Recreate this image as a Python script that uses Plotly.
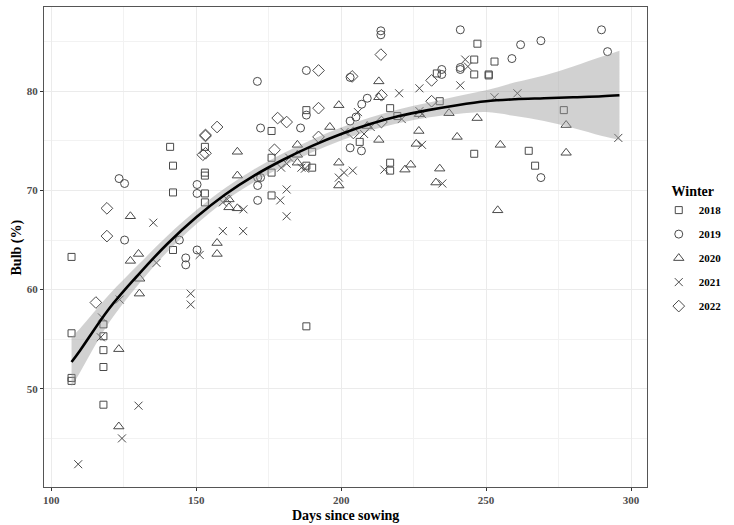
import plotly.graph_objects as go

# ---- data ----
sq_x = [107, 107, 107, 107, 118, 118, 118, 118, 118, 141, 142, 142, 142,
        153, 153, 153, 153, 153, 176, 176, 176, 176, 188, 188, 190, 190, 188,
        206.4, 216.9, 219.4, 216.9, 216.9, 233, 234, 245.9, 245.9, 247, 250.9,
        250.9, 252.9, 245.9, 264.7, 266.9, 276.8]
sq_y = [63.3, 55.6, 51.1, 50.8, 56.5, 55.3, 53.9, 52.2, 48.4, 74.4, 72.5, 69.8, 64.0,
        74.4, 71.8, 71.5, 69.7, 68.8, 76.0, 73.3, 71.8, 69.5, 78.1, 72.5, 72.3, 73.9, 56.3,
        74.9, 78.3, 77.5, 72.8, 72.0, 81.8, 79.0, 83.2, 81.7, 84.8, 81.7,
        81.6, 83.0, 73.7, 74.0, 72.5, 78.1]

ci_x = [123.4, 125.3, 125.3, 144.2, 146.4, 146.4, 150.3, 150.3, 150.3,
        171.1, 172.2, 171.2, 172.2, 171.2, 171.2, 186.0, 188.0, 188.0,
        203.1, 203.1, 205.1, 203.1, 207.0, 207.1, 209.0, 213.7, 213.7,
        234.7, 234.7, 241.1, 241.1, 241.1, 258.9, 261.9, 268.9, 268.9, 289.8, 291.9]
ci_y = [71.2, 70.7, 65.0, 65.0, 63.2, 62.5, 70.6, 69.7, 64.0,
        81.0, 76.3, 71.3, 71.3, 70.5, 69.0, 76.3, 82.1, 77.6,
        81.4, 77.0, 77.4, 74.3, 74.0, 78.7, 79.3, 86.1, 85.7,
        82.2, 81.7, 86.2, 82.4, 82.2, 83.3, 84.7, 85.1, 71.3, 86.2, 84.0]

tr_x = [123.3, 123.3, 127.3, 127.3, 130.1, 130.5, 130.4, 157.2, 157.2, 161.3, 161.3,
        164.2, 164.2, 164.2, 184.9, 184.9, 184.9, 196.1, 199.2, 199.2, 199.2,
        209, 213.0, 213.0, 213.0, 222.0, 224.0, 225.9, 226.8, 227, 232.7, 234.0,
        237.2, 240.0, 246.9, 254.0, 254.9, 277.6, 277.6]
tr_y = [54.0, 46.2, 67.4, 62.9, 63.6, 61.1, 59.6, 64.7, 63.6, 68.3, 69.1,
        73.9, 71.5, 68.2, 74.6, 73.6, 72.8, 76.4, 78.6, 72.8, 70.5,
        76.5, 81.0, 79.4, 75.1, 72.1, 72.6, 74.7, 76.0, 77.7, 70.8, 72.2,
        77.8, 75.4, 77.3, 68.0, 74.6, 76.6, 73.8]

xx_x = [109.3, 117.1, 117.5, 123.6, 124.4, 130.1, 135.2, 136.3, 148.1, 148.1, 151.2,
        159.2, 160.7, 159.2, 166.3, 166.2, 179.0, 179.3, 181.2, 182.1, 181.2, 181.2,
        186.3, 187.5, 199.2, 201.0, 201.2, 204.0, 205.8, 207.9, 210.2,
        214.9, 220.0, 220.9, 227.0, 227.0, 227.9, 227.9, 234.9, 241.1, 242.8,
        243.7, 252.9, 260.8, 295.6]
xx_y = [42.4, 55.2, 57.2, 59.0, 45.0, 48.3, 66.75, 62.7, 59.6, 58.5, 63.5,
        68.8, 69.1, 65.9, 68.1, 65.9, 69.0, 72.3, 72.7, 73.3, 70.1, 67.4,
        72.3, 72.2, 71.3, 71.8, 75.9, 72.0, 77.9, 75.7, 76.4,
        72.1, 79.8, 77.2, 80.3, 78.0, 77.7, 74.6, 70.7, 80.6, 83.2,
        82.5, 79.4, 79.8, 75.3]

di_x = [115.4, 119.2, 119.2, 152.3, 153.2, 153.2, 153.2, 157.2, 177.0, 178.1, 181.2,
        192.2, 192.2, 192.2, 203.8, 204.2, 213.7, 213.9, 213.9, 231.2, 231.2]
di_y = [58.7, 68.2, 65.4, 73.6, 73.75, 75.5, 75.6, 76.4, 74.1, 77.3, 76.9,
        82.1, 78.3, 75.4, 81.5, 75.8, 83.7, 79.6, 76.9, 81.1, 79.0]

fit_x = [107, 110, 120, 130, 140, 150, 160, 170, 180, 190, 200, 210, 220, 230,
         240, 250, 260, 270, 280, 290, 296]
fit_y = [52.7, 53.9, 58.1, 61.5, 64.6, 67.3, 69.6, 71.5, 73.1, 74.5, 75.7, 76.7,
         77.5, 78.1, 78.6, 79.0, 79.2, 79.3, 79.4, 79.5, 79.6]
fit_se = [2.5, 2.2, 1.4, 1.0, 0.8, 0.7, 0.65, 0.65, 0.65, 0.65, 0.65, 0.65,
          0.7, 0.75, 0.9, 1.1, 1.7, 2.3, 3.1, 4.0, 4.5]

series = [
    ("2018", sq_x, sq_y, "square-open", 7),
    ("2019", ci_x, ci_y, "circle-open", 8),
    ("2020", tr_x, tr_y, "triangle-up-open", 9),
    ("2021", xx_x, xx_y, "x-thin-open", 8),
    ("2022", di_x, di_y, "diamond-open", 9),
]

PT = "#4a4a4a"
fig = go.Figure()
for name, xs, ys, sym, sz in series:
    fig.add_trace(go.Scatter(
        x=xs, y=ys, mode="markers", name="<b>" + name + "</b>", legendgroup=name,
        marker=dict(symbol=sym, size=sz, color=PT, line=dict(width=1, color=PT)),
    ))

lower = [m - s for m, s in zip(fit_y, fit_se)]
upper = [m + s for m, s in zip(fit_y, fit_se)]
fig.add_trace(go.Scatter(x=fit_x, y=lower, mode="lines", line=dict(width=0, shape="spline"),
                         showlegend=False, hoverinfo="skip"))
fig.add_trace(go.Scatter(x=fit_x, y=upper, mode="lines", line=dict(width=0, shape="spline"),
                         fill="tonexty", fillcolor="rgba(153,153,153,0.45)",
                         showlegend=False, hoverinfo="skip"))
fig.add_trace(go.Scatter(x=fit_x, y=fit_y, mode="lines",
                         line=dict(color="black", width=2.6, shape="spline"),
                         showlegend=False, hoverinfo="skip"))

FONT = "Liberation Serif"
fig.update_layout(
    width=734, height=525,
    margin=dict(l=44, r=76, t=7, b=38),
    paper_bgcolor="white", plot_bgcolor="white",
    font=dict(family=FONT, color="black"),
    legend=dict(
        title=dict(text="<b>Winter</b>", font=dict(size=14, family=FONT, color="black"),
                   side="top center"),
        font=dict(size=11, family=FONT, color="black"),
        x=1.0195, xanchor="left", y=0.645, yanchor="top",
        tracegroupgap=5, bgcolor="rgba(0,0,0,0)", itemwidth=30,
    ),
    xaxis=dict(
        range=[97.5, 305.5], tickvals=[100, 150, 200, 250, 300],
        ticktext=["<b>100</b>", "<b>150</b>", "<b>200</b>", "<b>250</b>", "<b>300</b>"],
        showgrid=True, gridcolor="#ebebeb", gridwidth=1,
        minor=dict(tickvals=[125, 175, 225, 275], showgrid=True, gridcolor="#f2f2f2", gridwidth=0.7),
        ticks="outside", ticklen=3, tickcolor="#333", tickwidth=1,
        tickfont=dict(size=11, family=FONT, color="#4d4d4d"),
        showline=True, linecolor="#555", linewidth=1, mirror=True, zeroline=False,
        automargin=False,
    ),
    yaxis=dict(
        range=[40.1, 88.5], tickvals=[50, 60, 70, 80],
        ticktext=["<b>50</b>", "<b>60</b>", "<b>70</b>", "<b>80</b>"],
        showgrid=True, gridcolor="#ebebeb", gridwidth=1,
        minor=dict(tickvals=[45, 55, 65, 75, 85], showgrid=True, gridcolor="#f2f2f2", gridwidth=0.7),
        ticks="outside", ticklen=3, tickcolor="#333", tickwidth=1,
        tickfont=dict(size=11, family=FONT, color="#4d4d4d"),
        showline=True, linecolor="#555", linewidth=1, mirror=True, zeroline=False,
        automargin=False,
    ),
    annotations=[
        dict(text="<b>Days since sowing</b>", xref="paper", yref="paper",
             x=0.5, y=-0.0593, xanchor="center", yanchor="middle", showarrow=False,
             font=dict(size=14, family=FONT, color="black")),
        dict(text="<b>Bulb (%)</b>", xref="paper", yref="paper",
             x=-0.044, y=0.5, xanchor="center", yanchor="middle", showarrow=False,
             textangle=-90, font=dict(size=14, family=FONT, color="black")),
    ],
)

fig.write_html(
    "out.html",
    config={"displayModeBar": False},
    post_script="document.body.style.margin='0';document.body.style.overflow='hidden';",
)
